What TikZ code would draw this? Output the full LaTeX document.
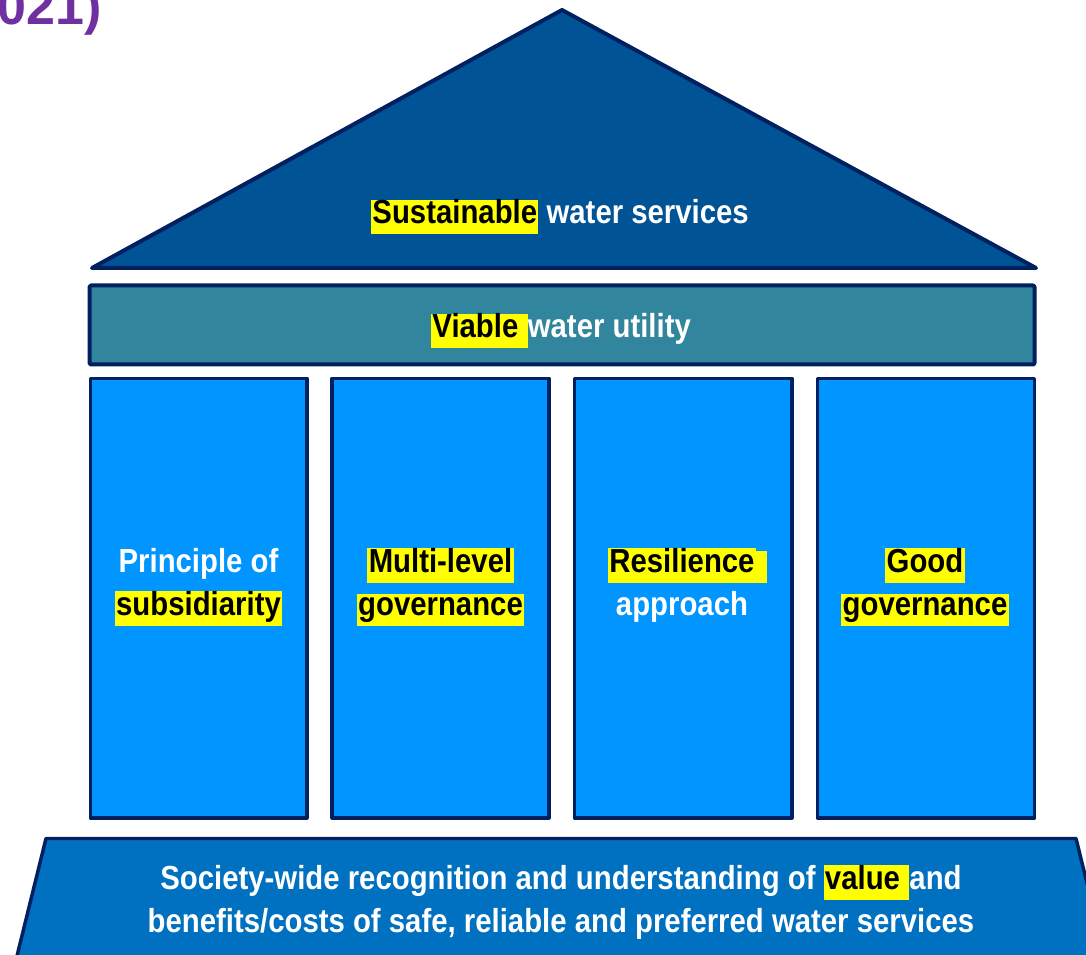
\documentclass[tikz,border=0pt]{standalone}
\usepackage{fontspec}
\setmainfont{Liberation Sans}
\newfontfamily\narrowfont{Liberation Sans}[FakeStretch=0.88]
\definecolor{roofblue}{RGB}{0,83,148}
\definecolor{navy}{RGB}{0,32,96}
\definecolor{beamteal}{RGB}{49,133,156}
\definecolor{pillarblue}{RGB}{0,149,255}
\definecolor{baseblue}{RGB}{0,112,192}
\definecolor{titlepurple}{RGB}{112,48,160}
\definecolor{hlyellow}{RGB}{255,255,0}
\newcommand{\mystrut}{\rule[-7.5pt]{0pt}{24pt}}
\newcommand{\hl}[1]{{\setlength{\fboxsep}{0pt}\colorbox{hlyellow}{\mystrut\kern1pt\color{black}#1\kern1pt}}}
\newcommand{\hlsp}[1]{\rlap{\setlength{\fboxsep}{0pt}\colorbox{hlyellow}{\mystrut\hspace{#1}}}}
\tikzset{
  shapeline/.style={draw=navy, line join=round},
  lbl/.style={inner sep=0pt, outer sep=0pt, text=white, align=center,
    font=\narrowfont\bfseries\fontsize{25pt}{32.25pt}\selectfont},
}
\begin{document}
\begin{tikzpicture}[x=0.75pt, y=-0.75pt]
\useasboundingbox (0,0) rectangle (1086,955);
% title fragment
\node[inner sep=0pt, anchor=base east, text=titlepurple,
  font=\bfseries\fontsize{39pt}{39pt}\selectfont] (title) at (102,25) {021)};
% roof
\path[shapeline, fill=roofblue, line width=3pt] (92,268) -- (562,10) -- (1036,268) -- cycle;
\coordinate (roofc) at (560,224);
\node[lbl, anchor=base] (rooftext) at (roofc) {\mystrut\hl{Sustainable} water services};
% beam
\path[shapeline, fill=beamteal, line width=3pt, rounded corners=1pt] (89.5,285.5) rectangle (1034.5,364.5);
\node[lbl, anchor=base] (beamtext) at (561,338) {\mystrut\hl{Viable }water utility};
% pillars
\foreach \i/\xa/\xb in {1/90.5/307, 2/332/549, 3/574.5/792, 4/817.5/1034.5}{
  \path[shapeline, fill=pillarblue, line width=2.4pt] (\xa,378.5) rectangle (\xb,818);
}
\node[lbl] (p1) at (198.5,587) {\mystrut Principle of\\\hl{subsidiarity}};
\node[lbl] (p2) at (440.5,587) {\hl{Multi-level}\\\hl{governance}};
\node[lbl] (p3) at (682,587) {\hl{Resilience}\hlsp{8pt}\\\mystrut approach};
\node[lbl] (p4) at (925,587) {\hl{Good}\\\hl{governance}};
% base
\path[shapeline, fill=baseblue, line width=2.6pt] (16,960) -- (46,838.5) -- (1076,838.5) -- (1106,960) -- cycle;
\node[lbl] (basetext) at (561,904) {\mystrut Society-wide recognition and understanding of \hl{value }and\\\mystrut benefits/costs of safe, reliable and preferred water services};
\end{tikzpicture}
\end{document}
